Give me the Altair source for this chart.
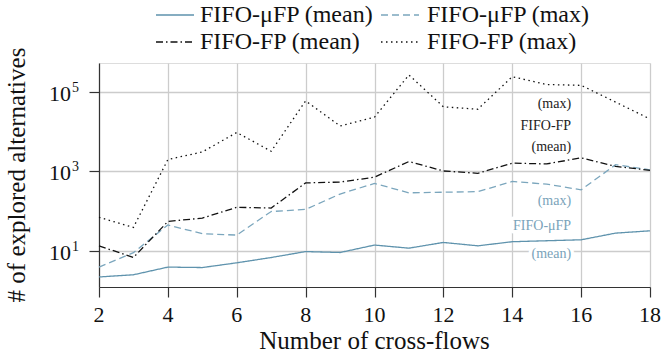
import altair as alt
import pandas as pd

flows = list(range(2, 19))
ufp_mean = [2.2, 2.5, 3.9, 3.8, 5.0, 6.8, 9.6, 9.1, 14, 11.7, 16.3, 13.4, 17, 18, 19, 28, 32]
ufp_max = [3.9, 9, 45, 27, 25, 98, 111, 270, 500, 290, 300, 310, 560, 480, 345, 1480, 1100]
fp_mean = [13.4, 6.8, 55, 67, 125, 120, 515, 540, 720, 1780, 1030, 900, 1620, 1550, 2200, 1340, 1070]
fp_max = [70, 39, 2000, 3100, 9600, 3230, 60000, 14000, 23400, 270000, 42600, 37000,
          244000, 155000, 148000, 56000, 21000]

series_names = ["FIFO-μFP (mean)", "FIFO-μFP (max)", "FIFO-FP (mean)", "FIFO-FP (max)"]
series_values = [ufp_mean, ufp_max, fp_mean, fp_max]
series_colors = ["#5f93ad", "#7ba6bd", "#111111", "#111111"]
series_dashes = [[1, 0], [7, 4], [7, 3, 1.5, 3], [1.5, 3.5]]

x_tick_values = [2, 4, 6, 8, 10, 12, 14, 16, 18]
x_tick_labels = ["2", "4", "6", "8", "10", "12", "14", "16", "18"]
y_tick_values = [10, 1000, 100000]
y_tick_base = ["10", "10", "10"]
y_tick_exp = ["1", "3", "5"]

ann_fp_text = ["(max)", "FIFO-FP", "(mean)"]
ann_fp_y = [50000, 14100, 4170]
ann_ufp_text = ["(max)", "FIFO-μFP", "(mean)"]
ann_ufp_y = [178, 42.7, 8.5]
ann_x = 15.71

x_title = "Number of cross-flows"
y_title = "# of explored alternatives"

rows = []
for name, vals in zip(series_names, series_values):
    for f, v in zip(flows, vals):
        rows.append({"flows": f, "value": v, "series": name})
df = pd.DataFrame(rows)

FONT = "Liberation Serif"
W, H = 551, 224

xscale = alt.Scale(domain=[2, 18], nice=False, zero=False)
yscale = alt.Scale(type="log", domain=[1.23, 5.4e5], nice=False)

x_enc = alt.X("flows:Q", scale=xscale, axis=alt.Axis(
    values=x_tick_values, labels=False, title=None,
    grid=True, gridColor="#cccccc", gridWidth=1.3,
    tickSize=10, tickColor="#333333", tickWidth=1.2,
    domainColor="#333333", domainWidth=1.2))

y_enc = alt.Y("value:Q", scale=yscale, axis=alt.Axis(
    values=y_tick_values, labels=False, title=None,
    grid=True, gridColor="#cccccc", gridWidth=1.3,
    tickSize=10, tickColor="#333333", tickWidth=1.2,
    domainColor="#333333", domainWidth=1.2))

lines = alt.Chart(df).mark_line(strokeWidth=1.3).encode(
    x=x_enc, y=y_enc,
    color=alt.Color("series:N", scale=alt.Scale(domain=series_names, range=series_colors), legend=None),
    strokeDash=alt.StrokeDash("series:N", scale=alt.Scale(domain=series_names, range=series_dashes),
                              legend=None),
    detail="series:N",
)

layers = [lines]

# annotations (white halo then text)
for texts, ys, col in [(ann_fp_text, ann_fp_y, "#222222"), (ann_ufp_text, ann_ufp_y, "#7aa3ba")]:
    adf = pd.DataFrame({"flows": [ann_x] * len(texts), "value": ys, "text": texts})
    layers.append(alt.Chart(adf).mark_text(
        font=FONT, fontSize=14, align="right", baseline="middle",
        fill="white", stroke="white", strokeWidth=7, strokeJoin="round"
    ).encode(x=alt.X("flows:Q", scale=xscale), y=alt.Y("value:Q", scale=yscale), text="text:N"))
    layers.append(alt.Chart(adf).mark_text(
        font=FONT, fontSize=14, align="right", baseline="middle", color=col
    ).encode(x=alt.X("flows:Q", scale=xscale), y=alt.Y("value:Q", scale=yscale), text="text:N"))

# x tick labels
xt = pd.DataFrame({"flows": x_tick_values, "text": x_tick_labels})
layers.append(alt.Chart(xt).mark_text(
    font=FONT, fontSize=22, align="center", baseline="top", color="#111111"
).encode(x=alt.X("flows:Q", scale=xscale), y=alt.value(H + 18), text="text:N"))

# y tick labels: base and superscript
yt = pd.DataFrame({"value": y_tick_values, "base": y_tick_base, "exp": y_tick_exp})
layers.append(alt.Chart(yt).mark_text(
    font=FONT, fontSize=22, align="right", baseline="middle", color="#111111", dy=2
).encode(y=alt.Y("value:Q", scale=yscale), x=alt.value(-28), text="base:N"))
layers.append(alt.Chart(yt).mark_text(
    font=FONT, fontSize=14, align="left", baseline="middle", color="#111111", dy=-4
).encode(y=alt.Y("value:Q", scale=yscale), x=alt.value(-27), text="exp:N"))

# axis titles
layers.append(alt.Chart(pd.DataFrame({"t": [x_title]})).mark_text(
    font=FONT, fontSize=25, align="center", baseline="middle", color="#111111"
).encode(x=alt.value(W / 2), y=alt.value(H + 54), text="t:N"))
layers.append(alt.Chart(pd.DataFrame({"t": [y_title]})).mark_text(
    font=FONT, fontSize=25, align="center", baseline="middle", color="#111111", angle=270
).encode(x=alt.value(-82), y=alt.value(H / 2), text="t:N"))

# legend (2 x 2)
leg_sym_x = [57, 282]
leg_text_x = [101, 328]
leg_row_y = [-48, -21]
for i, name in enumerate(series_names):
    r, c = i // 2, i % 2
    ldf = pd.DataFrame({"t": [name]})
    layers.append(alt.Chart(ldf).mark_rule(
        color=series_colors[i], strokeDash=series_dashes[i], strokeWidth=1.3
    ).encode(x=alt.value(leg_sym_x[c]), x2=alt.value(leg_sym_x[c] + 38), y=alt.value(leg_row_y[r])))
    layers.append(alt.Chart(ldf).mark_text(
        font=FONT, fontSize=24, align="left", baseline="middle", color="#111111"
    ).encode(x=alt.value(leg_text_x[c]), y=alt.value(leg_row_y[r]), text="t:N"))

chart = alt.layer(*layers).properties(
    width=W, height=H,
    padding={"left": 99, "top": 63, "right": 12, "bottom": 69},
    autosize=alt.AutoSizeParams(type="none"),
).configure_view(stroke="#333333", strokeWidth=1.2).configure(background="white")

chart.save("out.html", embed_options={"renderer": "svg", "actions": False})
